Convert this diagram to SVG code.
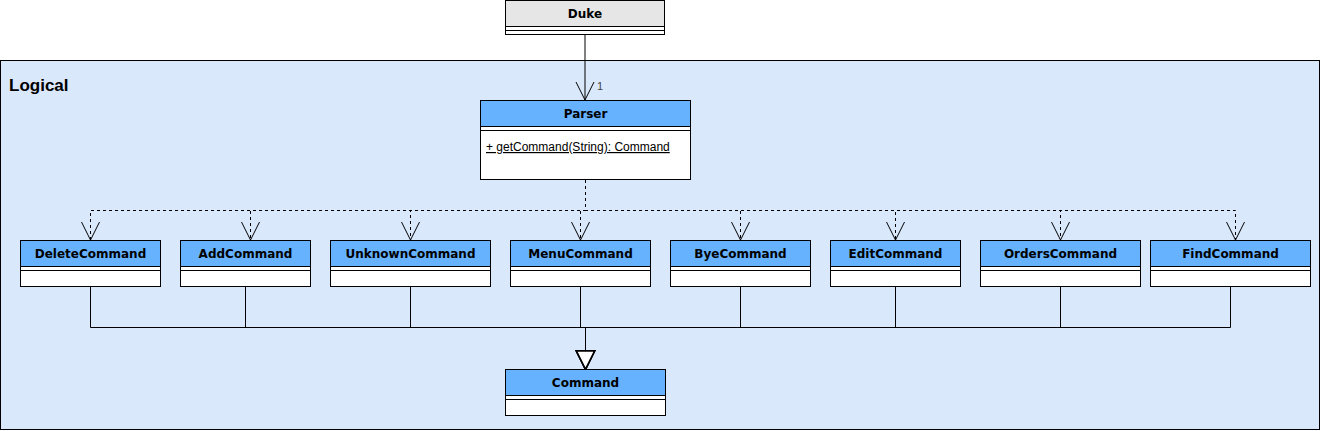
<svg xmlns="http://www.w3.org/2000/svg" width="1322" height="431" viewBox="0 0 1322 431">
<style>
.box{fill:#ffffff;stroke:#000;stroke-width:1}
.hdr{fill:#66b2ff;stroke:#000;stroke-width:1}
.hdrg{fill:#e6e6e6;stroke:#000;stroke-width:1}
.sep{stroke:#000;stroke-width:1}
.name{font-family:"DejaVu Sans",Verdana,sans-serif;font-weight:bold;font-size:12px;fill:#000;text-anchor:middle}
.method{font-family:"Liberation Sans",Arial,sans-serif;font-size:12px;fill:#000;text-decoration:underline}
.dep{fill:none;stroke:#000;stroke-width:1;stroke-dasharray:3 3;marker-end:url(#open)}
.gen{fill:none;stroke:#000;stroke-width:1;marker-end:url(#tri)}
.assoc{fill:none;stroke:#000;stroke-width:1;marker-end:url(#open)}
</style>
<defs>
<marker id="open" markerUnits="userSpaceOnUse" viewBox="-20 -11 22 22" markerWidth="22" markerHeight="22" refX="0" refY="0" orient="auto">
<path d="M -18 -9 L 0 0 L -18 9" fill="none" stroke="#000" stroke-width="1"/>
</marker>
<marker id="tri" markerUnits="userSpaceOnUse" viewBox="-20 -11 22 22" markerWidth="22" markerHeight="22" refX="0" refY="0" orient="auto">
<path d="M -18 -9 L 0 0 L -18 9 Z" fill="#fff" stroke="#000" stroke-width="1.5"/>
</marker>
</defs>

<g id="logical">
<rect x="0.5" y="60.5" width="1319" height="369" fill="#dae8fc" stroke="#000" stroke-width="1"/>
<text x="9" y="91" font-family="'Liberation Sans',Arial,sans-serif" font-weight="bold" font-size="17px" fill="#000">Logical</text>
</g>

<g id="duke">
<rect class="box" x="505.5" y="0.5" width="159" height="34"/>
<rect class="hdrg" x="505.5" y="0.5" width="159" height="26"/>
<line class="sep" x1="505.5" y1="30.5" x2="664.5" y2="30.5"/>
<text class="name" x="585" y="18">Duke</text>
</g>

<g id="connectors">
<path class="assoc" d="M 585 35 V 100"/>
<text x="597" y="90" font-family="'Liberation Sans',Arial,sans-serif" font-size="11px" fill="#444">1</text>
<path class="dep" d="M 585.5 180 V 210.5 H 90.5 V 240"/>
<path class="dep" d="M 585.5 180 V 210.5 H 250.5 V 240"/>
<path class="dep" d="M 585.5 180 V 210.5 H 410.5 V 240"/>
<path class="dep" d="M 585.5 180 V 210.5 H 580.5 V 240"/>
<path class="dep" d="M 585.5 180 V 210.5 H 740.5 V 240"/>
<path class="dep" d="M 585.5 180 V 210.5 H 895.5 V 240"/>
<path class="dep" d="M 585.5 180 V 210.5 H 1060.5 V 240"/>
<path class="dep" d="M 585.5 180 V 210.5 H 1235.5 V 240"/>
<path class="gen" d="M 90.5 286 V 327.5 H 585.5 V 369"/>
<path class="gen" d="M 245.5 286 V 327.5 H 585.5 V 369"/>
<path class="gen" d="M 410.5 286 V 327.5 H 585.5 V 369"/>
<path class="gen" d="M 580.5 286 V 327.5 H 585.5 V 369"/>
<path class="gen" d="M 740.5 286 V 327.5 H 585.5 V 369"/>
<path class="gen" d="M 895.5 286 V 327.5 H 585.5 V 369"/>
<path class="gen" d="M 1060.5 286 V 327.5 H 585.5 V 369"/>
<path class="gen" d="M 1230.5 286 V 327.5 H 585.5 V 369"/>
</g>

<g id="parser">
<rect class="box" x="480.5" y="100.5" width="210" height="79"/>
<rect class="hdr" x="480.5" y="100.5" width="210" height="26"/>
<line class="sep" x1="480.5" y1="130.5" x2="690.5" y2="130.5"/>
<text class="name" x="585.5" y="118">Parser</text>
<text class="method" x="486" y="151">+ getCommand(String): Command</text>
</g>

<g id="deleteCommand">
<rect class="box" x="20.5" y="240.5" width="140" height="46"/>
<rect class="hdr" x="20.5" y="240.5" width="140" height="26"/>
<line class="sep" x1="20.5" y1="270.5" x2="160.5" y2="270.5"/>
<text class="name" x="90.5" y="258">DeleteCommand</text>
</g>
<g id="addCommand">
<rect class="box" x="180.5" y="240.5" width="130" height="46"/>
<rect class="hdr" x="180.5" y="240.5" width="130" height="26"/>
<line class="sep" x1="180.5" y1="270.5" x2="310.5" y2="270.5"/>
<text class="name" x="245.5" y="258">AddCommand</text>
</g>
<g id="unknownCommand">
<rect class="box" x="330.5" y="240.5" width="160" height="46"/>
<rect class="hdr" x="330.5" y="240.5" width="160" height="26"/>
<line class="sep" x1="330.5" y1="270.5" x2="490.5" y2="270.5"/>
<text class="name" x="410.5" y="258">UnknownCommand</text>
</g>
<g id="menuCommand">
<rect class="box" x="510.5" y="240.5" width="140" height="46"/>
<rect class="hdr" x="510.5" y="240.5" width="140" height="26"/>
<line class="sep" x1="510.5" y1="270.5" x2="650.5" y2="270.5"/>
<text class="name" x="580.5" y="258">MenuCommand</text>
</g>
<g id="byeCommand">
<rect class="box" x="670.5" y="240.5" width="140" height="46"/>
<rect class="hdr" x="670.5" y="240.5" width="140" height="26"/>
<line class="sep" x1="670.5" y1="270.5" x2="810.5" y2="270.5"/>
<text class="name" x="740.5" y="258">ByeCommand</text>
</g>
<g id="editCommand">
<rect class="box" x="830.5" y="240.5" width="130" height="46"/>
<rect class="hdr" x="830.5" y="240.5" width="130" height="26"/>
<line class="sep" x1="830.5" y1="270.5" x2="960.5" y2="270.5"/>
<text class="name" x="895.5" y="258">EditCommand</text>
</g>
<g id="ordersCommand">
<rect class="box" x="980.5" y="240.5" width="160" height="46"/>
<rect class="hdr" x="980.5" y="240.5" width="160" height="26"/>
<line class="sep" x1="980.5" y1="270.5" x2="1140.5" y2="270.5"/>
<text class="name" x="1060.5" y="258">OrdersCommand</text>
</g>
<g id="findCommand">
<rect class="box" x="1150.5" y="240.5" width="160" height="46"/>
<rect class="hdr" x="1150.5" y="240.5" width="160" height="26"/>
<line class="sep" x1="1150.5" y1="270.5" x2="1310.5" y2="270.5"/>
<text class="name" x="1230.5" y="258">FindCommand</text>
</g>

<g id="command">
<rect class="box" x="505.5" y="369.5" width="160" height="46"/>
<rect class="hdr" x="505.5" y="369.5" width="160" height="26"/>
<line class="sep" x1="505.5" y1="399.5" x2="665.5" y2="399.5"/>
<text class="name" x="585.5" y="387">Command</text>
</g>
</svg>
